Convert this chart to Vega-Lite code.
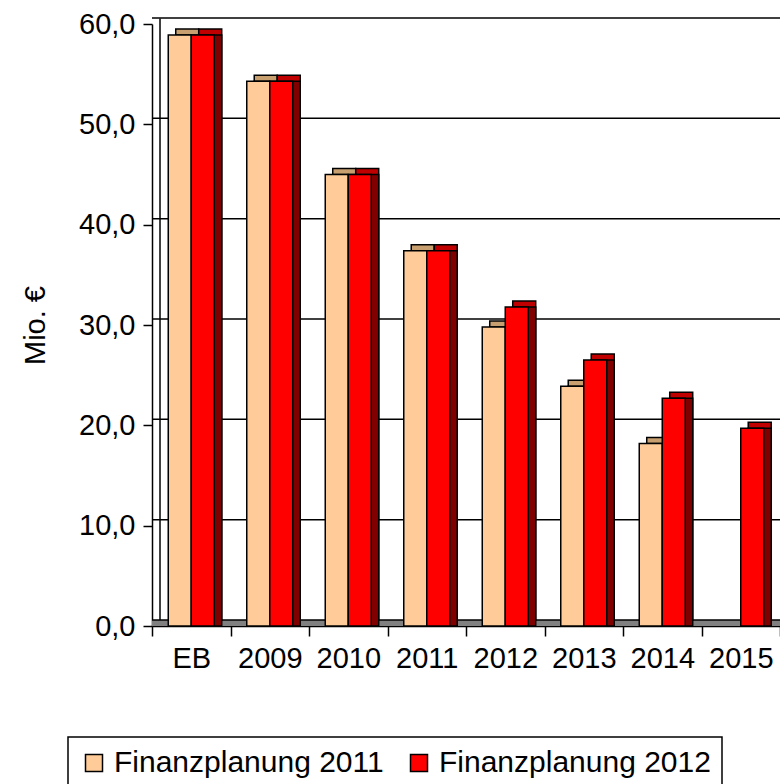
{
  "$schema": "https://vega.github.io/schema/vega-lite/v6.json",
  "width": 628,
  "height": 602,
  "autosize": "none",
  "padding": {"left": 152, "top": 24, "right": 0, "bottom": 158},
  "background": "white",
  "config": {
    "view": {"stroke": null},
    "font": "Liberation Sans",
    "axis": {"labelColor": "black", "titleColor": "black", "domainColor": "black", "tickColor": "black", "domainWidth": 1.5, "tickWidth": 1.5, "grid": false, "labelFontSize": 29, "titleFontSize": 29, "titleFontWeight": "normal"},
    "legend": {"strokeColor": "black", "strokeWidth": 1.5}
  },
  "datasets": {
    "bars": [
      {"Jahr": "EB", "Serie": "Finanzplanung 2011", "Wert": 58.9},
      {"Jahr": "EB", "Serie": "Finanzplanung 2012", "Wert": 58.9},
      {"Jahr": "2009", "Serie": "Finanzplanung 2011", "Wert": 54.3},
      {"Jahr": "2009", "Serie": "Finanzplanung 2012", "Wert": 54.3},
      {"Jahr": "2010", "Serie": "Finanzplanung 2011", "Wert": 45.0},
      {"Jahr": "2010", "Serie": "Finanzplanung 2012", "Wert": 45.0},
      {"Jahr": "2011", "Serie": "Finanzplanung 2011", "Wert": 37.4},
      {"Jahr": "2011", "Serie": "Finanzplanung 2012", "Wert": 37.4},
      {"Jahr": "2012", "Serie": "Finanzplanung 2011", "Wert": 29.8},
      {"Jahr": "2012", "Serie": "Finanzplanung 2012", "Wert": 31.8},
      {"Jahr": "2013", "Serie": "Finanzplanung 2011", "Wert": 23.9},
      {"Jahr": "2013", "Serie": "Finanzplanung 2012", "Wert": 26.5},
      {"Jahr": "2014", "Serie": "Finanzplanung 2011", "Wert": 18.2},
      {"Jahr": "2014", "Serie": "Finanzplanung 2012", "Wert": 22.7},
      {"Jahr": "2015", "Serie": "Finanzplanung 2012", "Wert": 19.7}
    ],
    "grid": [{"v": 0}, {"v": 10}, {"v": 20}, {"v": 30}, {"v": 40}, {"v": 50}, {"v": 60}]
  },
  "layer": [
    {
      "data": {"name": "grid"},
      "mark": {"type": "rule", "color": "#808080", "strokeWidth": 6, "xOffset": 4, "yOffset": -3},
      "encoding": {"y": {"datum": 0, "type": "quantitative", "scale": {"domain": [0, 60]}, "axis": null}}
    },
    {
      "data": {"name": "grid"},
      "mark": {"type": "rule", "color": "black", "strokeWidth": 1.5, "xOffset": 8, "yOffset": -6},
      "encoding": {"y": {"field": "v", "type": "quantitative", "scale": {"domain": [0, 60]},
        "axis": {"orient": "left", "title": null, "labels": false, "ticks": false, "domain": true, "grid": false, "offset": -13.5, "translate": -5.5}}}
    },
    {
      "data": {"name": "bars"},
      "mark": {"type": "bar", "stroke": "black", "strokeWidth": 1.5, "yOffset": -6, "y2Offset": -6},
      "encoding": {
        "x": {"field": "Jahr", "type": "nominal", "sort": ["EB", "2009", "2010", "2011", "2012", "2013", "2014", "2015"], "scale": {"paddingInner": 0, "paddingOuter": 0}, "axis": null},
        "xOffset": {"field": "Serie", "type": "nominal", "scale": {"paddingInner": 0, "paddingOuter": 0.707, "align": 0.73}},
        "y": {"field": "Wert", "type": "quantitative", "scale": {"domain": [0, 60]}, "axis": null},
        "color": {"field": "Serie", "type": "nominal", "scale": {"range": ["#C8A070", "#C00000"]}, "legend": null}
      }
    },
    {
      "data": {"name": "bars"},
      "mark": {"type": "bar", "stroke": "black", "strokeWidth": 1.5},
      "encoding": {
        "x": {"field": "Jahr", "type": "nominal", "sort": ["EB", "2009", "2010", "2011", "2012", "2013", "2014", "2015"], "scale": {"paddingInner": 0, "paddingOuter": 0}, "axis": null},
        "xOffset": {"field": "Serie", "type": "nominal", "scale": {"paddingInner": 0, "paddingOuter": 0.707, "align": 0.73}},
        "y": {"field": "Wert", "type": "quantitative", "scale": {"domain": [0, 60]}, "axis": null},
        "color": {"field": "Serie", "type": "nominal", "scale": {"range": ["#A07850", "#800000"]}, "legend": null}
      }
    },
    {
      "data": {"name": "bars"},
      "mark": {"type": "bar", "stroke": "black", "strokeWidth": 1.5},
      "encoding": {
        "x": {"field": "Jahr", "type": "nominal", "sort": ["EB", "2009", "2010", "2011", "2012", "2013", "2014", "2015"], "scale": {"paddingInner": 0, "paddingOuter": 0},
          "axis": {"title": null, "labelAngle": 0, "tickBand": "extent", "tickSize": 10, "labelPadding": 8}},
        "xOffset": {"field": "Serie", "type": "nominal", "scale": {"paddingInner": 0, "paddingOuter": 0.707}},
        "y": {"field": "Wert", "type": "quantitative", "scale": {"domain": [0, 60]},
          "axis": {"orient": "left", "title": "Mio. €", "values": [0, 10, 20, 30, 40, 50, 60], "labelExpr": "replace(format(datum.value, '.1f'), '.', ',')", "tickSize": 9, "labelPadding": 8, "titlePadding": 28}},
        "color": {"field": "Serie", "type": "nominal", "scale": {"range": ["#FFCC99", "#FF0000"]},
          "legend": {"orient": "none", "legendX": -84, "legendY": 713, "direction": "horizontal", "title": null, "symbolType": "square", "symbolSize": 289, "symbolStrokeColor": "black", "symbolStrokeWidth": 1.5, "labelFontSize": 30, "labelColor": "black", "labelLimit": 0, "labelOffset": 5, "columnPadding": 20, "strokeColor": "black", "padding": 11, "fillColor": "white"}}
      }
    }
  ],
  "resolve": {"scale": {"color": "independent", "x": "independent", "xOffset": "independent", "y": "independent"}}
}
